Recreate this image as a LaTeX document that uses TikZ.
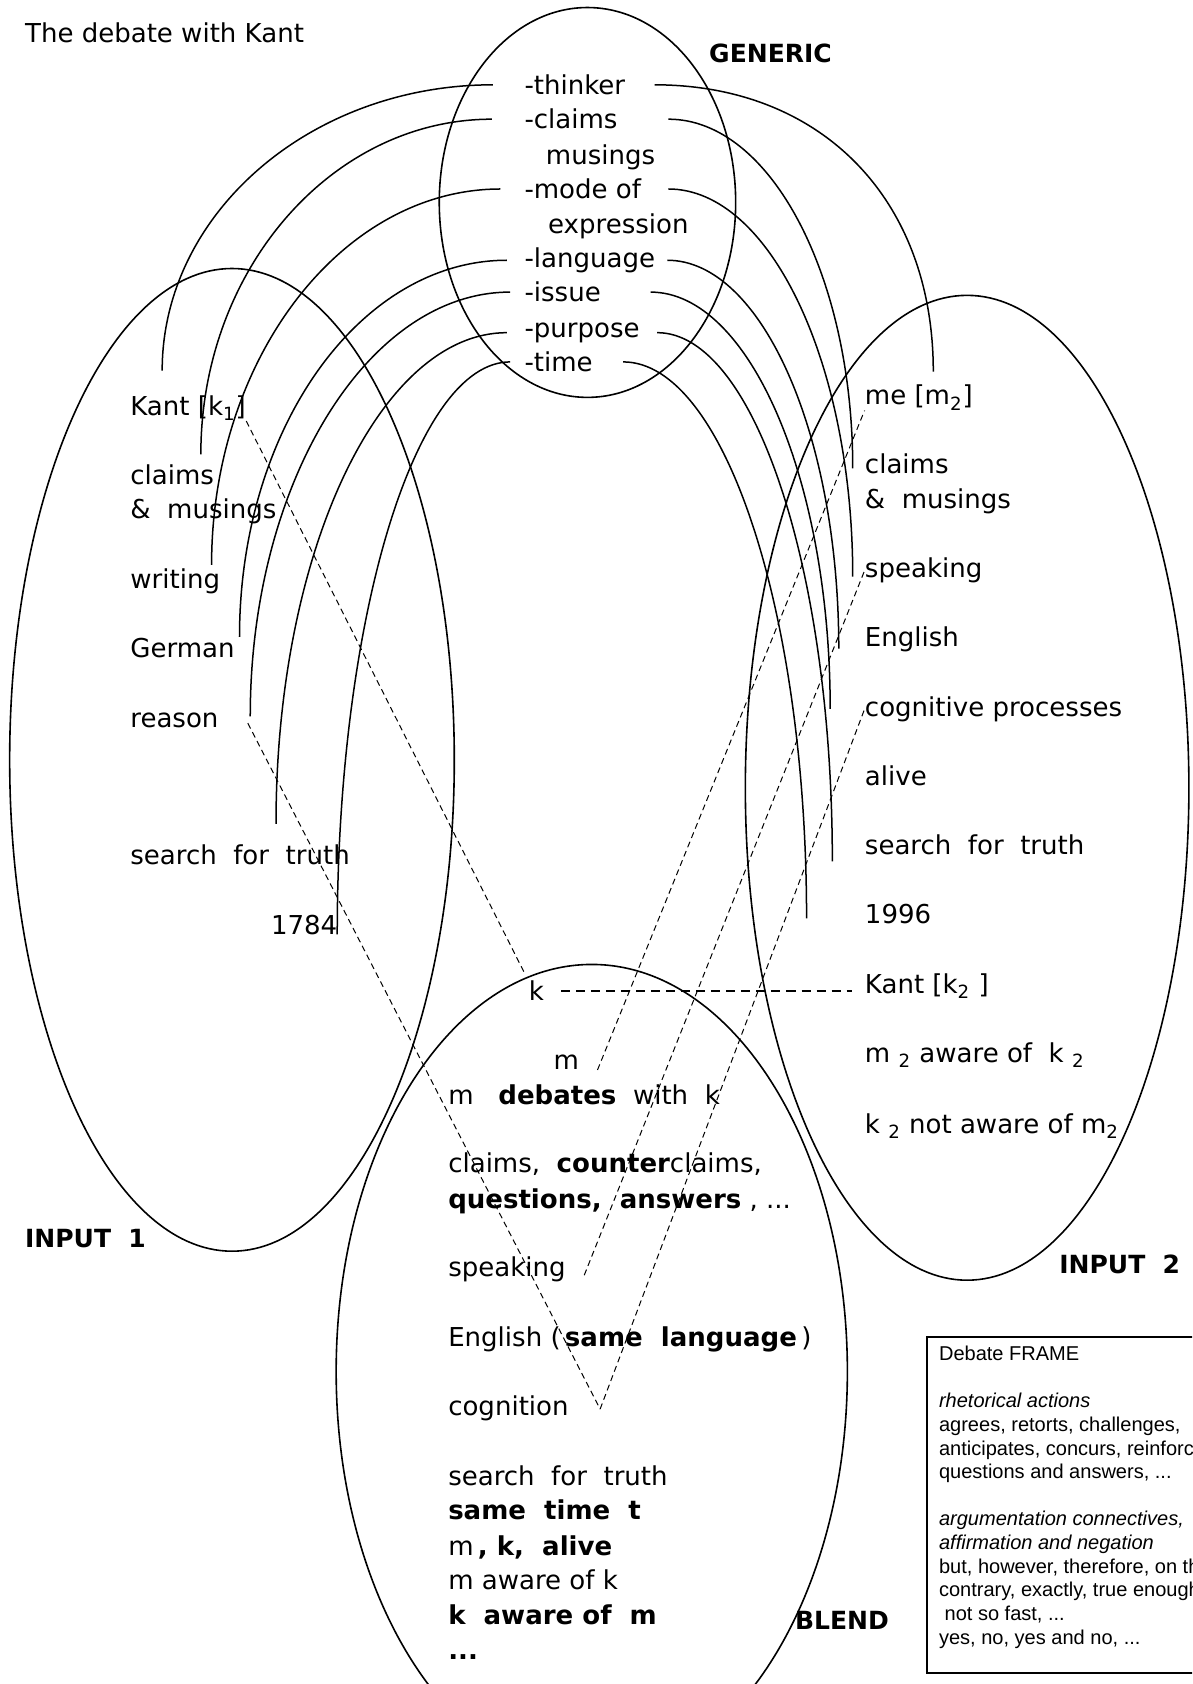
\documentclass[tikz,border=0pt]{standalone}
\usepackage{fontspec}
\setmainfont{DejaVu Sans}
\newfontfamily\framefont{Liberation Sans}
\newcommand{\labfont}{\fontsize{13}{17.2}\selectfont}
\newcommand{\headfont}{\fontsize{12.5}{15}\selectfont\bfseries}

\begin{document}
\begin{tikzpicture}[x=0.5365pt, y=-0.5365pt]
  \useasboundingbox (0,0) rectangle (1110,1568);
  \clip (0,0) rectangle (1110,1568);

  % the four spaces
  \begin{scope}[line width=0.8pt]
    \draw (547,188.5) ellipse [x radius=138, y radius=181.5];
    \draw (216,707.5) ellipse [x radius=207, y radius=457.5];
    \draw (900.5,733.5) ellipse [x radius=206.5, y radius=458.5];
    \draw (551,1277) ellipse [x radius=238, y radius=379];
  \end{scope}

  % headings
  \begin{scope}[every node/.style={anchor=base west, inner sep=0pt, font=\headfont}]
    \node (title) [font=\labfont] at (23,40) {The debate with Kant};
    \node (genericlbl) at (660,58.5) {GENERIC};
    \node (inonelbl) at (23,1162) {INPUT\ \ 1};
    \node (intwolbl) at (986,1186) {INPUT\ \ 2};
    \node (blendlbl) at (740,1517) {BLEND};
  \end{scope}

  \begin{scope}[every node/.style={anchor=base west, inner sep=0pt, font=\labfont}]
    % generic space
    \node (gthinker) at (488,88) {-thinker};
    \node (gclaims) at (488,120) {-claims};
    \node (gmusings) at (508,153) {musings};
    \node (gmode) at (488,185) {-mode of};
    \node (gexpr) at (510,217) {expression};
    \node (glang) at (488,249) {-language};
    \node (gissue) at (488,281) {-issue};
    \node (gpurpose) at (488,314) {-purpose};
    \node (gtime) at (488,346) {-time};
    % input 1
    \node (akant) at (121,387) {Kant [k\textsubscript{1}]};
    \node (aclaims) at (121,451) {claims};
    \node (amusings) at (121,483) {\&\ \ musings};
    \node (awriting) at (121,548) {writing};
    \node (agerman) at (121,612) {German};
    \node (areason) at (121,677) {reason};
    \node (atruth) at (121,805) {search\ \ for\ \ truth};
    \node (ayear) at (252,870) {1784};
    % input 2
    \node (bme) at (805,377) {me [m\textsubscript{2}]};
    \node (bclaims) at (805,441) {claims};
    \node (bmusings) at (805,473) {\&\ \ musings};
    \node (bspeaking) at (805,538) {speaking};
    \node (benglish) at (805,602) {English};
    \node (bcog) at (805,667) {cognitive processes};
    \node (balive) at (805,731) {alive};
    \node (btruth) at (805,796) {search\ \ for\ \ truth};
    \node (byear) at (805,860) {1996};
    \node (bkant) at (805,925) {Kant [k\textsubscript{2} ]};
    \node (baware) at (805,989) {m \textsubscript{2} aware of\ \ k \textsubscript{2}};
    \node (bnotaware) at (805,1055) {k \textsubscript{2} not aware of m\textsubscript{2}};
    % blend
    \node (ck) at (492,932) {k};
    \node (cm) at (515,996) {m};
    \node (cdebates) at (417,1028) {m\ \ \ \textbf{debates}\ \ with\ \ k};
    \node (cclaims) at (417,1092) {claims,\ \ \textbf{counter}claims,};
    \node (cquestions) at (417,1125) {\textbf{questions,\ \ answers} , ...};
    \node (cspeaking) at (417,1189) {speaking};
    \node (cenglish) at (417,1254) {English (\,\textbf{same\ \ language}\,)};
    \node (ccognition) at (417,1318) {cognition};
    \node (ctruth) at (417,1383) {search\ \ for\ \ truth};
    \node (ctime) at (417,1415) {\textbf{same\ \ time\ \ t}};
    \node (calive) at (417,1448) {m\,\textbf{, k,\ \ alive}};
    \node (caware) at (417,1480) {m aware of k};
    \node (ckaware) at (417,1513) {\textbf{k\ \ aware of\ \ m}};
    \node (cdots) at (417,1545) {\textbf{...}};
  \end{scope}

  % ends of the cross-space ties
  \coordinate (lthinker) at (151,345);
  \coordinate (lclaims) at (187,423);
  \coordinate (lmode) at (197,526);
  \coordinate (llang) at (223,593);
  \coordinate (lissue) at (233,667);
  \coordinate (lpurpose) at (257,767);
  \coordinate (ltime) at (314,870);
  \coordinate (rthinker) at (869,346);
  \coordinate (rclaims) at (794,436);
  \coordinate (rmode) at (794,537);
  \coordinate (rlang) at (781,604);
  \coordinate (rissue) at (773,660);
  \coordinate (rpurpose) at (775,802);
  \coordinate (rtime) at (751,855);

  \begin{scope}[line width=0.75pt]
    \draw ([shift={(-29,0)}]gthinker.west) .. controls +(-170,0) and +(0,-146) .. (lthinker);
    \draw ([shift={(-30,0)}]gclaims.west) .. controls +(-149,0) and +(0,-172) .. (lclaims);
    \draw ([shift={(-22,0)}]gmode.west) .. controls +(-148,0) and +(0,-192) .. (lmode);
    \draw ([shift={(-16,0)}]glang.west) .. controls +(-137,0) and +(0,-194) .. (llang);
    \draw ([shift={(-13,0)}]gissue.west) .. controls +(-133,0) and +(0,-217) .. (lissue);
    \draw ([shift={(-16,0)}]gpurpose.west) .. controls +(-118,0) and +(0,-254) .. (lpurpose);
    \draw ([shift={(-13,0)}]gtime.west) .. controls +(-89,0) and +(0,-293) .. (ltime);
    \draw ([shift={(27,0)}]gthinker.east) .. controls +(155,0) and +(0,-161) .. (rthinker);
    \draw ([shift={(47,0)}]gclaims.east) .. controls +(95,0) and +(0,-179) .. (rclaims);
    \draw ([shift={(25,0)}]gmode.east) .. controls +(95,0) and +(0,-198) .. (rmode);
    \draw ([shift={(11,0)}]glang.east) .. controls +(88,0) and +(0,-199) .. (rlang);
    \draw ([shift={(46,0)}]gissue.east) .. controls +(92,0) and +(0,-213) .. (rissue);
    \draw ([shift={(16,0)}]gpurpose.east) .. controls +(90,0) and +(0,-272) .. (rpurpose);
    \draw ([shift={(28,0)}]gtime.east) .. controls +(94,0) and +(0,-285) .. (rtime);
  \end{scope}

  % projections into the blend
  \coordinate (vcog) at ([shift={(29,-6)}]ccognition.base east);
  \begin{scope}[every edge/.style={draw, line width=0.5pt, dash pattern=on 3pt off 2pt}]
    \path (akant.south east) edge[shorten >=5pt] (ck.north west);
    \path ([shift={(27,3)}]areason.east) edge (vcog);
    \path (vcog) edge (bcog.west);
    \path ([shift={(17,7)}]cm.east) edge (bme.south west);
    \path ([shift={(17,5)}]cspeaking.east) edge (bspeaking.west);
  \end{scope}
  \draw[line width=0.8pt, dash pattern=on 4.5pt off 3pt, shorten <=8.5pt, shorten >=6.5pt] (ck.east) -- (ck.east -| bkant.west);

  % frame box
  \draw[line width=1pt] (863,1245) rectangle (1130,1558);
  \node[anchor=north west, inner sep=0pt, align=left, font=\framefont\fontsize{10}{11.8}\selectfont] (frametext) at (874,1253)
    {Debate FRAME\\ ~\\ \textit{rhetorical actions}\\ agrees, retorts, challenges,\\ anticipates, concurs, reinforces,\\ questions and answers, ...\\ ~\\ \textit{argumentation connectives,}\\ \textit{affirmation and negation}\\ but, however, therefore, on the\\ contrary, exactly, true enough,\\ \ not so fast, ...\\ yes, no, yes and no, ...};
\end{tikzpicture}
\end{document}
